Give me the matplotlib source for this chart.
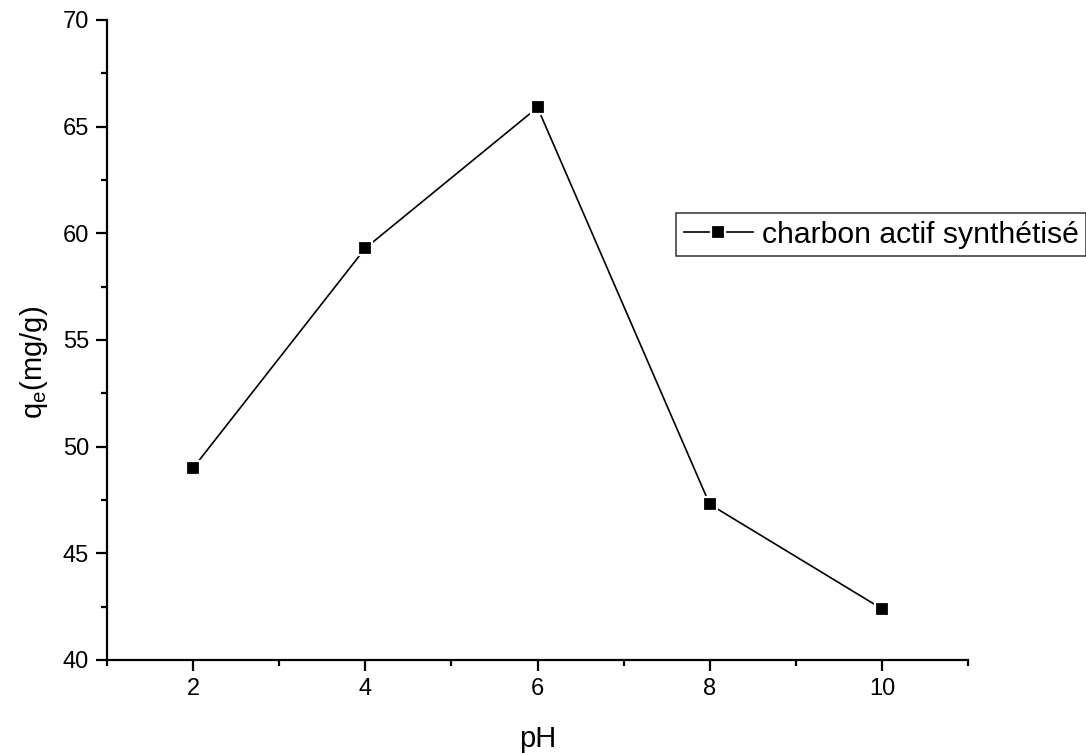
import matplotlib
matplotlib.use("Agg")
import matplotlib.pyplot as plt
from matplotlib.ticker import MultipleLocator

plt.rcParams['font.family'] = ['Liberation Sans', 'DejaVu Sans']
plt.rcParams['mathtext.fontset'] = 'custom'
plt.rcParams['mathtext.rm'] = 'Liberation Sans'

ph = [2, 4, 6, 8, 10]
qe = [49.0, 59.3, 65.9, 47.3, 42.4]
series_label = "charbon actif synthétisé"

fig = plt.figure(figsize=(10.86, 7.53), dpi=100)
ax = fig.add_axes([107/1086, 1 - 660/753, (968 - 107)/1086, (660 - 20)/753])

ax.plot(ph, qe, color='black', linewidth=1.2, marker='s', markersize=10.5,
        markerfacecolor='black', markeredgecolor='white', markeredgewidth=1.6,
        label=series_label)

ax.set_xlim(1, 11)
ax.set_ylim(40, 70)
ax.xaxis.set_major_locator(MultipleLocator(2))
ax.xaxis.set_minor_locator(MultipleLocator(1))
ax.yaxis.set_major_locator(MultipleLocator(5))
ax.yaxis.set_minor_locator(MultipleLocator(2.5))
ax.set_xticks([2, 4, 6, 8, 10])

for side in ('top', 'right'):
    ax.spines[side].set_visible(False)
for side in ('left', 'bottom'):
    ax.spines[side].set_linewidth(1.6)

ax.tick_params(which='major', direction='out', length=8, width=1.6,
               labelsize=17, pad=5)
ax.tick_params(which='minor', direction='out', length=4.5, width=1.6)

ax.set_xlabel('pH', fontsize=21, labelpad=18)
ax.set_ylabel(r'q$_\mathregular{e}$(mg/g)', fontsize=21, labelpad=9)
ax.yaxis.label.set_y(0.465)

leg = ax.legend(loc='upper left', bbox_to_anchor=(676/1086, 1 - 213/753),
                bbox_transform=fig.transFigure, fontsize=21.7, frameon=True,
                fancybox=False, handlelength=2.3, handletextpad=0.3,
                borderpad=0.25, borderaxespad=0)
leg.get_frame().set_edgecolor('black')
leg.get_frame().set_linewidth(1.1)

fig.savefig('out.png', dpi=100)
